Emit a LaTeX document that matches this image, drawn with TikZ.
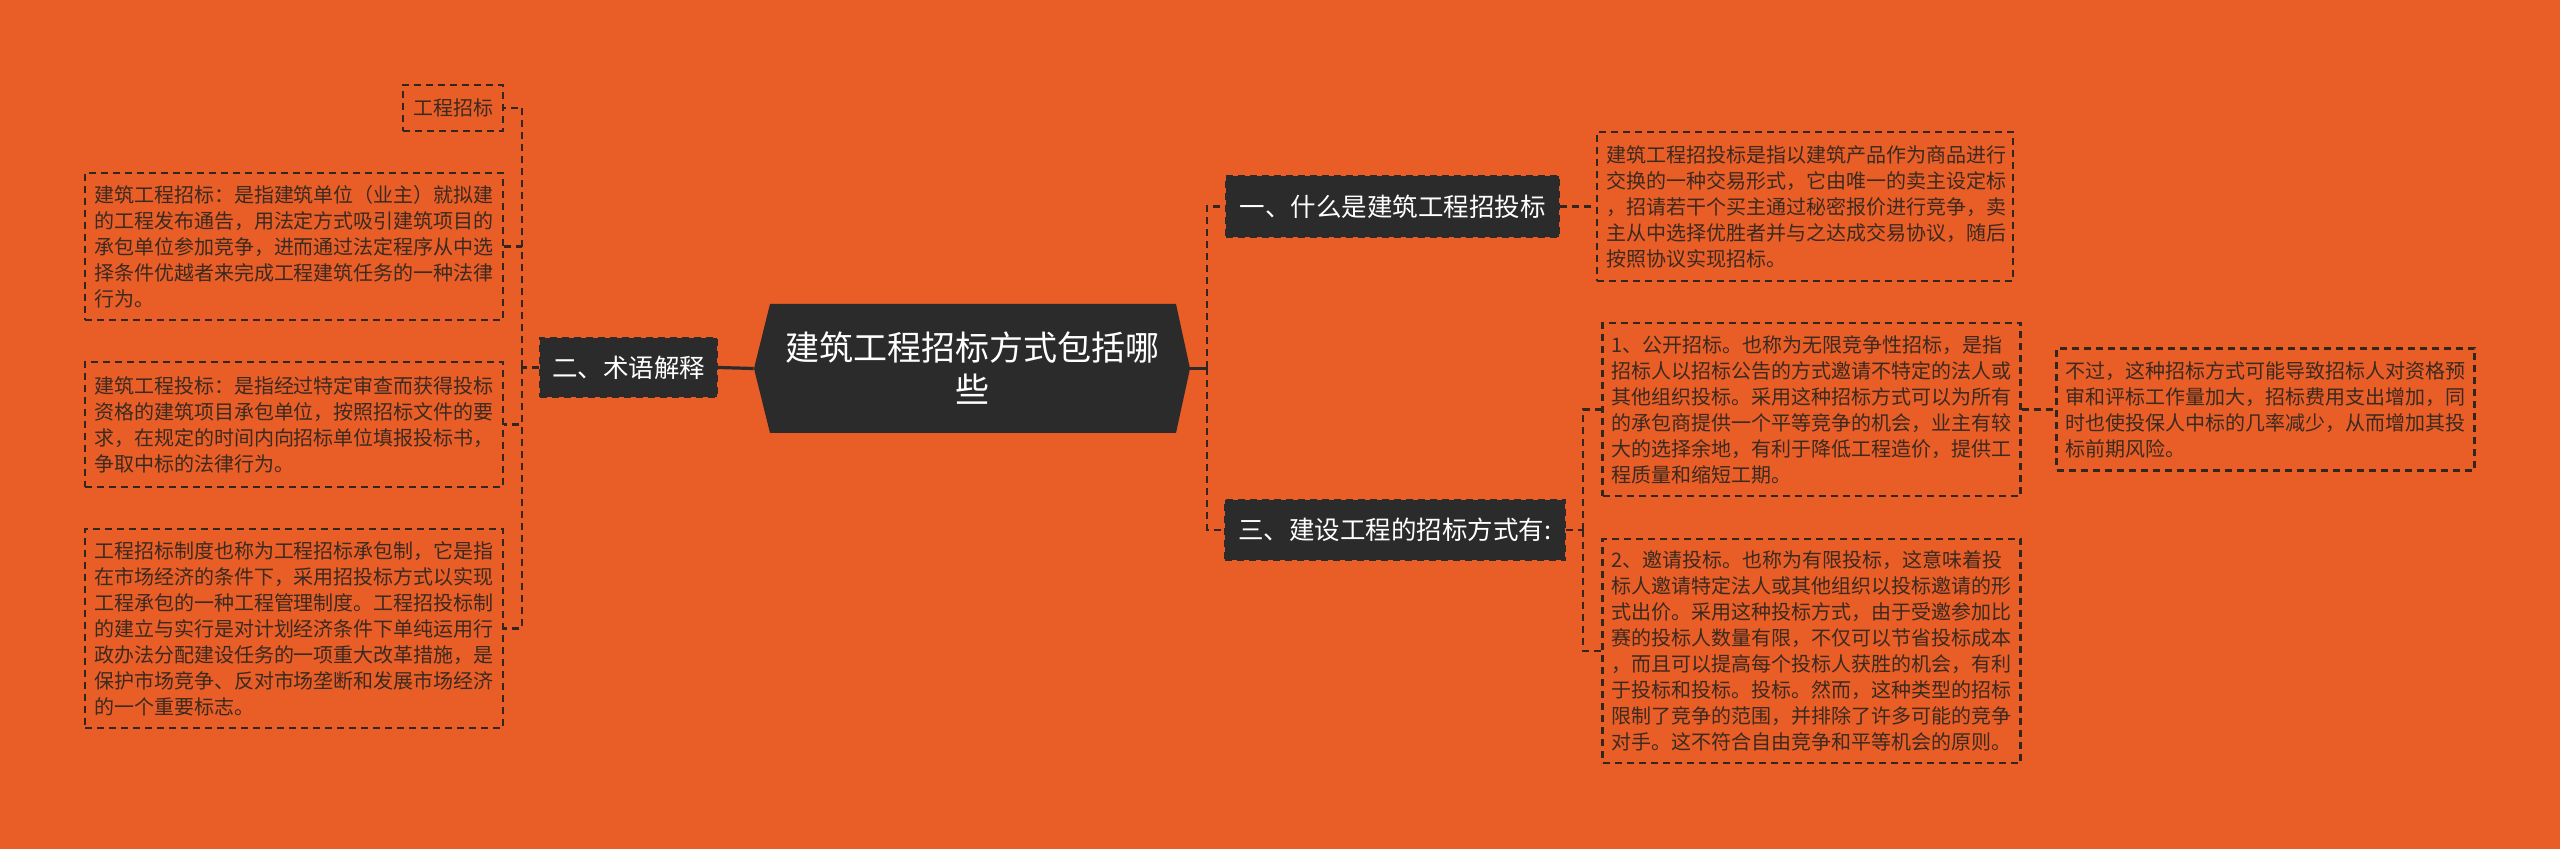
\documentclass[tikz,border=0pt]{standalone}
\usepackage{fontspec}
\setmainfont{Noto Sans CJK SC}
\definecolor{bg}{HTML}{E95D27}
\definecolor{dark}{HTML}{2B2B2B}
\definecolor{txt}{HTML}{3A2A20}
\definecolor{ln}{HTML}{33261F}
\tikzset{
  dsh/.style={dash pattern=on 3.5pt off 2.5pt},
  leaf/.style={draw=ln, dsh, line width=1.1pt, text=txt, font=\fontsize{10}{13}\selectfont,
    align=left, text width=200pt, inner xsep=4.5pt, inner ysep=0pt},
  branch/.style={fill=dark, draw=dark, dsh, line width=1pt, text=white,
    font=\fontsize{12.75}{15}\selectfont, inner sep=0pt, align=center},
  conn/.style={draw=ln, dsh, line width=1.1pt},
  solidc/.style={draw=dark, line width=1.6pt},
}
\begin{document}
\begin{tikzpicture}[x=0.5pt,y=-0.5pt]
\useasboundingbox (0,0) rectangle (2560,849);
\fill[bg] (0,0) rectangle (2560,849);

% central hexagon
\fill[dark] (754,368.5) -- (770,304) -- (1176,304) -- (1190,368.5) -- (1176,433) -- (770,433) -- cycle;
\node[text=white, font=\fontsize{17}{21}\selectfont, align=center, inner sep=0pt,
  minimum width=218pt, minimum height=64.5pt] (hex) at (972,368.5) {建筑工程招标方式包括哪\\些};

% left branch
\node[branch, minimum width=88.5pt, minimum height=29.5pt] (n2) at (628.5,367.5) {二、术语解释};

\node[leaf, text width=40pt, inner xsep=5pt, minimum height=23pt] (L0) at (453,108) {工程招标};
\node[leaf, minimum height=73.5pt] (L1) at (294,246.5) {建筑工程招标：是指建筑单位（业主）就拟建\\的工程发布通告，用法定方式吸引建筑项目的\\承包单位参加竞争，进而通过法定程序从中选\\择条件优越者来完成工程建筑任务的一种法律\\行为。};
\node[leaf, minimum height=62.5pt] (L2) at (294,424.5) {建筑工程投标：是指经过特定审查而获得投标\\资格的建筑项目承包单位，按照招标文件的要\\求，在规定的时间内向招标单位填报投标书，\\争取中标的法律行为。};
\node[leaf, minimum height=99.5pt] (L3) at (294,628.5) {工程招标制度也称为工程招标承包制，它是指\\在市场经济的条件下，采用招投标方式以实现\\工程承包的一种工程管理制度。工程招投标制\\的建立与实行是对计划经济条件下单纯运用行\\政办法分配建设任务的一项重大改革措施，是\\保护市场竞争、反对市场垄断和发展市场经济\\的一个重要标志。};

% right branches
\node[branch, minimum width=166.5pt, minimum height=30.5pt] (n1) at (1392.5,206.5) {一、什么是建筑工程招投标};
\node[leaf, text width=199pt, minimum height=74.5pt] (R1) at (1805,206.5) {建筑工程招投标是指以建筑产品作为商品进行\\交换的一种交易形式，它由唯一的卖主设定标\\，招请若干个买主通过秘密报价进行竞争，卖\\主从中选择优胜者并与之达成交易协议，随后\\按照协议实现招标。};

\node[branch, minimum width=170pt, minimum height=30pt] (n3) at (1395,530) {三、建设工程的招标方式有:};
\node[leaf, minimum height=86.5pt] (R3a) at (1811.5,409.5) {1、公开招标。也称为无限竞争性招标，是指\\招标人以招标公告的方式邀请不特定的法人或\\其他组织投标。采用这种招标方式可以为所有\\的承包商提供一个平等竞争的机会，业主有较\\大的选择余地，有利于降低工程造价，提供工\\程质量和缩短工期。};
\node[leaf, minimum height=112pt] (R3b) at (1811.5,651) {2、邀请投标。也称为有限投标，这意味着投\\标人邀请特定法人或其他组织以投标邀请的形\\式出价。采用这种投标方式，由于受邀参加比\\赛的投标人数量有限，不仅可以节省投标成本\\，而且可以提高每个投标人获胜的机会，有利\\于投标和投标。投标。然而，这种类型的招标\\限制了竞争的范围，并排除了许多可能的竞争\\对手。这不符合自由竞争和平等机会的原则。};
\node[leaf, minimum height=61pt] (R3c) at (2265.5,409.5) {不过，这种招标方式可能导致招标人对资格预\\审和评标工作量加大，招标费用支出增加，同\\时也使投保人中标的几率减少，从而增加其投\\标前期风险。};

% connectors
\coordinate (cL) at (522,367.5);
\coordinate (cR) at (1207,368.5);
\coordinate (cT) at (1583,530);

\draw[solidc] (hex.west) -- (n2.east);
\draw[conn] (n2.west) -- (cL);
\draw[conn] (cL) |- (L0.east);
\draw[conn] (cL) |- (L1.east);
\draw[conn] (cL) |- (L2.east);
\draw[conn] (cL) |- (L3.east);

\draw[solidc] (hex.east) -- (cR);
\draw[conn] (cR) |- (n1.west);
\draw[conn] (cR) |- (n3.west);
\draw[conn] (n1.east) -- (R1.west);

\draw[conn] (n3.east) -- (cT);
\draw[conn] (cT) |- (R3a.west);
\draw[conn] (cT) |- (R3b.west);
\draw[conn] (R3a.east) -- (R3c.west);
\end{tikzpicture}
\end{document}
